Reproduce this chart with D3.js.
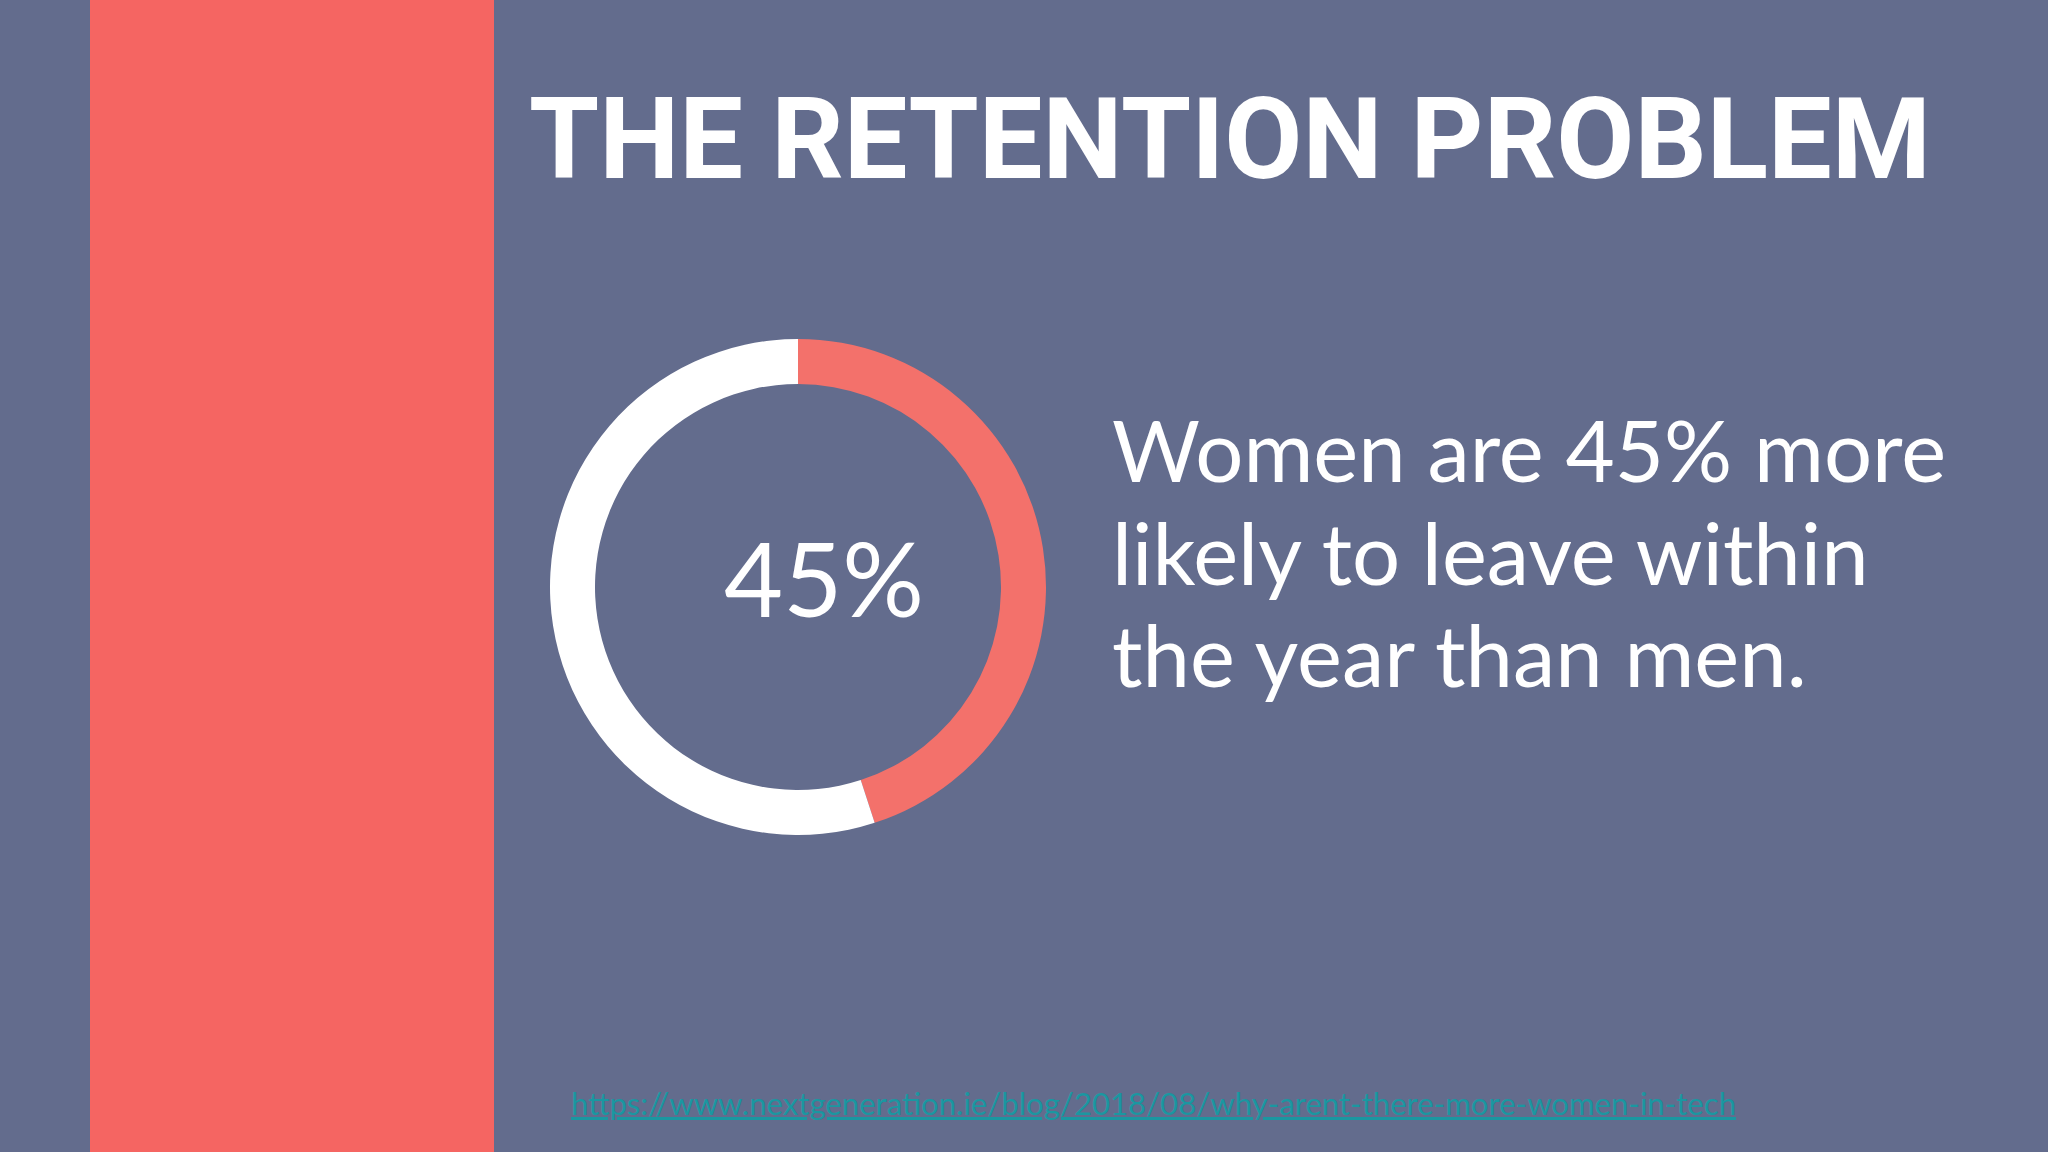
<!DOCTYPE html>
<html>
<head>
<meta charset="utf-8">
<script src="https://cdn.jsdelivr.net/npm/d3@7"></script>
<style>
  html, body { margin: 0; padding: 0; background: #636c8d; overflow: hidden; }
  svg { display: block; }
</style>
</head>
<body>
<svg id="slide"></svg>
<script>
// chart values
const slices = ["Women leaving", "Rest"];
const sliceValues = [45, 55];
const sliceColors = ["#f3716b", "#ffffff"];
const centerLabel = "45%";
const titleText = "THE RETENTION PROBLEM";
const bodyLines = ["Women are 45% more", "likely to leave within", "the year than men."];
const sourceUrl = "https://www.nextgeneration.ie/blog/2018/08/why-arent-there-more-women-in-tech";

const width = 2048, height = 1152;

const svg = d3.select("#slide")
    .attr("width", width)
    .attr("height", height)
    .attr("viewBox", [0, 0, width, height]);

// background + red band
svg.append("rect")
    .attr("width", width).attr("height", height)
    .attr("fill", "#636c8d");
svg.append("rect")
    .attr("x", 90).attr("y", 0)
    .attr("width", 404).attr("height", height)
    .attr("fill", "#f56562");

// title, stretched to the width of the original
svg.append("text")
    .attr("x", 529)
    .attr("y", 178)
    .attr("fill", "#ffffff")
    .style("font", "700 113px Roboto, sans-serif")
    .attr("textLength", 1402)
    .attr("lengthAdjust", "spacingAndGlyphs")
    .text(titleText);

// donut
const pie = d3.pie().sort(null).value(d => d.value);
const arc = d3.arc().innerRadius(203).outerRadius(248);

const donut = svg.append("g")
    .attr("transform", "translate(798,587)");

donut.selectAll("path")
  .data(pie(slices.map((s, i) => ({name: s, value: sliceValues[i]}))))
  .join("path")
    .attr("d", arc)
    .attr("fill", (d, i) => sliceColors[i]);

donut.append("text")
    .attr("x", 26)
    .attr("y", 30)
    .attr("text-anchor", "middle")
    .attr("fill", "#ffffff")
    .style("font", "400 102px Lato, sans-serif")
    .text(centerLabel);

// body text
svg.append("g")
  .selectAll("text")
  .data(bodyLines)
  .join("text")
    .attr("x", 1112)
    .attr("y", (d, i) => 482 + i * 102.5)
    .attr("fill", "#ffffff")
    .style("font", "400 85px Lato, sans-serif")
    .text(d => d);

// source link
svg.append("text")
    .attr("x", 571)
    .attr("y", 1115)
    .attr("fill", "#1a97a1")
    .style("font", "400 30px Lato, sans-serif")
    .style("text-decoration", "underline")
    .attr("textLength", 1165)
    .attr("lengthAdjust", "spacingAndGlyphs")
    .text(sourceUrl);
</script>
</body>
</html>
